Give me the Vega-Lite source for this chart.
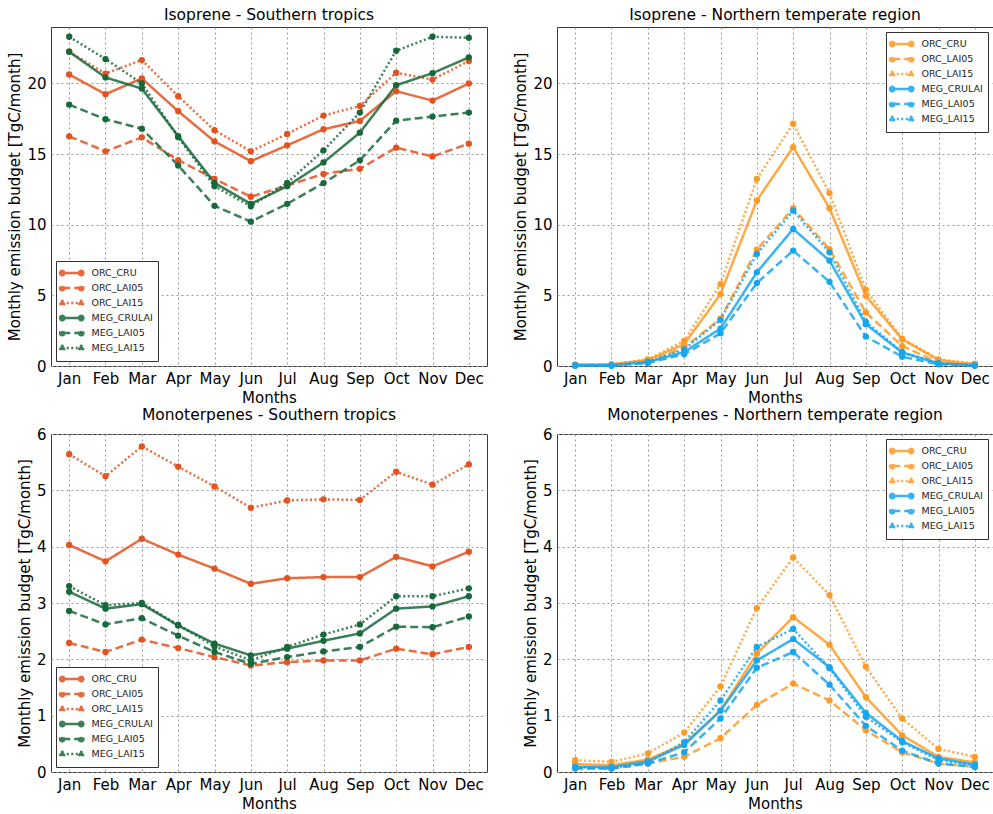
{
  "$schema": "https://vega.github.io/schema/vega-lite/v6.json",
  "padding": {"left": 7, "top": 7, "right": 0, "bottom": 0},
  "bounds": "flush",
  "columns": 2,
  "spacing": {"row": 68, "column": 70},
  "datasets": {
    "budget": [
      {"panel":"IST","series":"ORC_CRU","month":"Jan","value":20.64},{"panel":"IST","series":"ORC_CRU","month":"Feb","value":19.24},{"panel":"IST","series":"ORC_CRU","month":"Mar","value":20.36},{"panel":"IST","series":"ORC_CRU","month":"Apr","value":18.04},{"panel":"IST","series":"ORC_CRU","month":"May","value":15.9},{"panel":"IST","series":"ORC_CRU","month":"Jun","value":14.5},{"panel":"IST","series":"ORC_CRU","month":"Jul","value":15.62},{"panel":"IST","series":"ORC_CRU","month":"Aug","value":16.76},{"panel":"IST","series":"ORC_CRU","month":"Sep","value":17.35},{"panel":"IST","series":"ORC_CRU","month":"Oct","value":19.46},{"panel":"IST","series":"ORC_CRU","month":"Nov","value":18.79},{"panel":"IST","series":"ORC_CRU","month":"Dec","value":20.0},
      {"panel":"IST","series":"ORC_LAI05","month":"Jan","value":16.26},{"panel":"IST","series":"ORC_LAI05","month":"Feb","value":15.2},{"panel":"IST","series":"ORC_LAI05","month":"Mar","value":16.19},{"panel":"IST","series":"ORC_LAI05","month":"Apr","value":14.58},{"panel":"IST","series":"ORC_LAI05","month":"May","value":13.25},{"panel":"IST","series":"ORC_LAI05","month":"Jun","value":11.98},{"panel":"IST","series":"ORC_LAI05","month":"Jul","value":12.78},{"panel":"IST","series":"ORC_LAI05","month":"Aug","value":13.6},{"panel":"IST","series":"ORC_LAI05","month":"Sep","value":13.96},{"panel":"IST","series":"ORC_LAI05","month":"Oct","value":15.46},{"panel":"IST","series":"ORC_LAI05","month":"Nov","value":14.84},{"panel":"IST","series":"ORC_LAI05","month":"Dec","value":15.74},
      {"panel":"IST","series":"ORC_LAI15","month":"Jan","value":22.25},{"panel":"IST","series":"ORC_LAI15","month":"Feb","value":20.7},{"panel":"IST","series":"ORC_LAI15","month":"Mar","value":21.66},{"panel":"IST","series":"ORC_LAI15","month":"Apr","value":19.1},{"panel":"IST","series":"ORC_LAI15","month":"May","value":16.69},{"panel":"IST","series":"ORC_LAI15","month":"Jun","value":15.2},{"panel":"IST","series":"ORC_LAI15","month":"Jul","value":16.43},{"panel":"IST","series":"ORC_LAI15","month":"Aug","value":17.73},{"panel":"IST","series":"ORC_LAI15","month":"Sep","value":18.41},{"panel":"IST","series":"ORC_LAI15","month":"Oct","value":20.76},{"panel":"IST","series":"ORC_LAI15","month":"Nov","value":20.28},{"panel":"IST","series":"ORC_LAI15","month":"Dec","value":21.59},
      {"panel":"IST","series":"MEG_CRULAI","month":"Jan","value":22.25},{"panel":"IST","series":"MEG_CRULAI","month":"Feb","value":20.43},{"panel":"IST","series":"MEG_CRULAI","month":"Mar","value":19.64},{"panel":"IST","series":"MEG_CRULAI","month":"Apr","value":16.28},{"panel":"IST","series":"MEG_CRULAI","month":"May","value":12.97},{"panel":"IST","series":"MEG_CRULAI","month":"Jun","value":11.48},{"panel":"IST","series":"MEG_CRULAI","month":"Jul","value":12.73},{"panel":"IST","series":"MEG_CRULAI","month":"Aug","value":14.41},{"panel":"IST","series":"MEG_CRULAI","month":"Sep","value":16.52},{"panel":"IST","series":"MEG_CRULAI","month":"Oct","value":19.88},{"panel":"IST","series":"MEG_CRULAI","month":"Nov","value":20.73},{"panel":"IST","series":"MEG_CRULAI","month":"Dec","value":21.85},
      {"panel":"IST","series":"MEG_LAI05","month":"Jan","value":18.51},{"panel":"IST","series":"MEG_LAI05","month":"Feb","value":17.47},{"panel":"IST","series":"MEG_LAI05","month":"Mar","value":16.8},{"panel":"IST","series":"MEG_LAI05","month":"Apr","value":14.2},{"panel":"IST","series":"MEG_LAI05","month":"May","value":11.34},{"panel":"IST","series":"MEG_LAI05","month":"Jun","value":10.22},{"panel":"IST","series":"MEG_LAI05","month":"Jul","value":11.48},{"panel":"IST","series":"MEG_LAI05","month":"Aug","value":12.95},{"panel":"IST","series":"MEG_LAI05","month":"Sep","value":14.56},{"panel":"IST","series":"MEG_LAI05","month":"Oct","value":17.37},{"panel":"IST","series":"MEG_LAI05","month":"Nov","value":17.66},{"panel":"IST","series":"MEG_LAI05","month":"Dec","value":17.94},
      {"panel":"IST","series":"MEG_LAI15","month":"Jan","value":23.31},{"panel":"IST","series":"MEG_LAI15","month":"Feb","value":21.73},{"panel":"IST","series":"MEG_LAI15","month":"Mar","value":20.0},{"panel":"IST","series":"MEG_LAI15","month":"Apr","value":16.2},{"panel":"IST","series":"MEG_LAI15","month":"May","value":12.73},{"panel":"IST","series":"MEG_LAI15","month":"Jun","value":11.31},{"panel":"IST","series":"MEG_LAI15","month":"Jul","value":12.97},{"panel":"IST","series":"MEG_LAI15","month":"Aug","value":15.27},{"panel":"IST","series":"MEG_LAI15","month":"Sep","value":17.94},{"panel":"IST","series":"MEG_LAI15","month":"Oct","value":22.32},{"panel":"IST","series":"MEG_LAI15","month":"Nov","value":23.31},{"panel":"IST","series":"MEG_LAI15","month":"Dec","value":23.24},

      {"panel":"INT","series":"ORC_CRU","month":"Jan","value":0.1},{"panel":"INT","series":"ORC_CRU","month":"Feb","value":0.12},{"panel":"INT","series":"ORC_CRU","month":"Mar","value":0.43},{"panel":"INT","series":"ORC_CRU","month":"Apr","value":1.54},{"panel":"INT","series":"ORC_CRU","month":"May","value":5.09},{"panel":"INT","series":"ORC_CRU","month":"Jun","value":11.72},{"panel":"INT","series":"ORC_CRU","month":"Jul","value":15.5},{"panel":"INT","series":"ORC_CRU","month":"Aug","value":11.17},{"panel":"INT","series":"ORC_CRU","month":"Sep","value":4.97},{"panel":"INT","series":"ORC_CRU","month":"Oct","value":1.89},{"panel":"INT","series":"ORC_CRU","month":"Nov","value":0.43},{"panel":"INT","series":"ORC_CRU","month":"Dec","value":0.12},
      {"panel":"INT","series":"ORC_LAI05","month":"Jan","value":0.07},{"panel":"INT","series":"ORC_LAI05","month":"Feb","value":0.1},{"panel":"INT","series":"ORC_LAI05","month":"Mar","value":0.28},{"panel":"INT","series":"ORC_LAI05","month":"Apr","value":1.3},{"panel":"INT","series":"ORC_LAI05","month":"May","value":3.36},{"panel":"INT","series":"ORC_LAI05","month":"Jun","value":8.24},{"panel":"INT","series":"ORC_LAI05","month":"Jul","value":11.17},{"panel":"INT","series":"ORC_LAI05","month":"Aug","value":8.28},{"panel":"INT","series":"ORC_LAI05","month":"Sep","value":3.79},{"panel":"INT","series":"ORC_LAI05","month":"Oct","value":1.42},{"panel":"INT","series":"ORC_LAI05","month":"Nov","value":0.24},{"panel":"INT","series":"ORC_LAI05","month":"Dec","value":0.07},
      {"panel":"INT","series":"ORC_LAI15","month":"Jan","value":0.1},{"panel":"INT","series":"ORC_LAI15","month":"Feb","value":0.12},{"panel":"INT","series":"ORC_LAI15","month":"Mar","value":0.47},{"panel":"INT","series":"ORC_LAI15","month":"Apr","value":1.78},{"panel":"INT","series":"ORC_LAI15","month":"May","value":5.8},{"panel":"INT","series":"ORC_LAI15","month":"Jun","value":13.25},{"panel":"INT","series":"ORC_LAI15","month":"Jul","value":17.16},{"panel":"INT","series":"ORC_LAI15","month":"Aug","value":12.24},{"panel":"INT","series":"ORC_LAI15","month":"Sep","value":5.4},{"panel":"INT","series":"ORC_LAI15","month":"Oct","value":1.94},{"panel":"INT","series":"ORC_LAI15","month":"Nov","value":0.47},{"panel":"INT","series":"ORC_LAI15","month":"Dec","value":0.17},
      {"panel":"INT","series":"MEG_CRULAI","month":"Jan","value":0.05},{"panel":"INT","series":"MEG_CRULAI","month":"Feb","value":0.05},{"panel":"INT","series":"MEG_CRULAI","month":"Mar","value":0.28},{"panel":"INT","series":"MEG_CRULAI","month":"Apr","value":0.99},{"panel":"INT","series":"MEG_CRULAI","month":"May","value":2.65},{"panel":"INT","series":"MEG_CRULAI","month":"Jun","value":6.63},{"panel":"INT","series":"MEG_CRULAI","month":"Jul","value":9.7},{"panel":"INT","series":"MEG_CRULAI","month":"Aug","value":7.46},{"panel":"INT","series":"MEG_CRULAI","month":"Sep","value":2.96},{"panel":"INT","series":"MEG_CRULAI","month":"Oct","value":0.95},{"panel":"INT","series":"MEG_CRULAI","month":"Nov","value":0.19},{"panel":"INT","series":"MEG_CRULAI","month":"Dec","value":0.05},
      {"panel":"INT","series":"MEG_LAI05","month":"Jan","value":0.02},{"panel":"INT","series":"MEG_LAI05","month":"Feb","value":0.02},{"panel":"INT","series":"MEG_LAI05","month":"Mar","value":0.21},{"panel":"INT","series":"MEG_LAI05","month":"Apr","value":0.83},{"panel":"INT","series":"MEG_LAI05","month":"May","value":2.32},{"panel":"INT","series":"MEG_LAI05","month":"Jun","value":5.87},{"panel":"INT","series":"MEG_LAI05","month":"Jul","value":8.17},{"panel":"INT","series":"MEG_LAI05","month":"Aug","value":5.96},{"panel":"INT","series":"MEG_LAI05","month":"Sep","value":2.08},{"panel":"INT","series":"MEG_LAI05","month":"Oct","value":0.66},{"panel":"INT","series":"MEG_LAI05","month":"Nov","value":0.12},{"panel":"INT","series":"MEG_LAI05","month":"Dec","value":0.02},
      {"panel":"INT","series":"MEG_LAI15","month":"Jan","value":0.05},{"panel":"INT","series":"MEG_LAI15","month":"Feb","value":0.05},{"panel":"INT","series":"MEG_LAI15","month":"Mar","value":0.31},{"panel":"INT","series":"MEG_LAI15","month":"Apr","value":1.18},{"panel":"INT","series":"MEG_LAI15","month":"May","value":3.27},{"panel":"INT","series":"MEG_LAI15","month":"Jun","value":7.93},{"panel":"INT","series":"MEG_LAI15","month":"Jul","value":11.0},{"panel":"INT","series":"MEG_LAI15","month":"Aug","value":8.05},{"panel":"INT","series":"MEG_LAI15","month":"Sep","value":3.12},{"panel":"INT","series":"MEG_LAI15","month":"Oct","value":0.99},{"panel":"INT","series":"MEG_LAI15","month":"Nov","value":0.19},{"panel":"INT","series":"MEG_LAI15","month":"Dec","value":0.05},

      {"panel":"MST","series":"ORC_CRU","month":"Jan","value":4.03},{"panel":"MST","series":"ORC_CRU","month":"Feb","value":3.74},{"panel":"MST","series":"ORC_CRU","month":"Mar","value":4.14},{"panel":"MST","series":"ORC_CRU","month":"Apr","value":3.86},{"panel":"MST","series":"ORC_CRU","month":"May","value":3.61},{"panel":"MST","series":"ORC_CRU","month":"Jun","value":3.34},{"panel":"MST","series":"ORC_CRU","month":"Jul","value":3.44},{"panel":"MST","series":"ORC_CRU","month":"Aug","value":3.46},{"panel":"MST","series":"ORC_CRU","month":"Sep","value":3.46},{"panel":"MST","series":"ORC_CRU","month":"Oct","value":3.82},{"panel":"MST","series":"ORC_CRU","month":"Nov","value":3.65},{"panel":"MST","series":"ORC_CRU","month":"Dec","value":3.91},
      {"panel":"MST","series":"ORC_LAI05","month":"Jan","value":2.29},{"panel":"MST","series":"ORC_LAI05","month":"Feb","value":2.13},{"panel":"MST","series":"ORC_LAI05","month":"Mar","value":2.35},{"panel":"MST","series":"ORC_LAI05","month":"Apr","value":2.2},{"panel":"MST","series":"ORC_LAI05","month":"May","value":2.04},{"panel":"MST","series":"ORC_LAI05","month":"Jun","value":1.89},{"panel":"MST","series":"ORC_LAI05","month":"Jul","value":1.95},{"panel":"MST","series":"ORC_LAI05","month":"Aug","value":1.98},{"panel":"MST","series":"ORC_LAI05","month":"Sep","value":1.98},{"panel":"MST","series":"ORC_LAI05","month":"Oct","value":2.19},{"panel":"MST","series":"ORC_LAI05","month":"Nov","value":2.09},{"panel":"MST","series":"ORC_LAI05","month":"Dec","value":2.22},
      {"panel":"MST","series":"ORC_LAI15","month":"Jan","value":5.64},{"panel":"MST","series":"ORC_LAI15","month":"Feb","value":5.25},{"panel":"MST","series":"ORC_LAI15","month":"Mar","value":5.78},{"panel":"MST","series":"ORC_LAI15","month":"Apr","value":5.42},{"panel":"MST","series":"ORC_LAI15","month":"May","value":5.07},{"panel":"MST","series":"ORC_LAI15","month":"Jun","value":4.69},{"panel":"MST","series":"ORC_LAI15","month":"Jul","value":4.82},{"panel":"MST","series":"ORC_LAI15","month":"Aug","value":4.84},{"panel":"MST","series":"ORC_LAI15","month":"Sep","value":4.83},{"panel":"MST","series":"ORC_LAI15","month":"Oct","value":5.33},{"panel":"MST","series":"ORC_LAI15","month":"Nov","value":5.1},{"panel":"MST","series":"ORC_LAI15","month":"Dec","value":5.46},
      {"panel":"MST","series":"MEG_CRULAI","month":"Jan","value":3.2},{"panel":"MST","series":"MEG_CRULAI","month":"Feb","value":2.9},{"panel":"MST","series":"MEG_CRULAI","month":"Mar","value":2.98},{"panel":"MST","series":"MEG_CRULAI","month":"Apr","value":2.6},{"panel":"MST","series":"MEG_CRULAI","month":"May","value":2.28},{"panel":"MST","series":"MEG_CRULAI","month":"Jun","value":2.07},{"panel":"MST","series":"MEG_CRULAI","month":"Jul","value":2.19},{"panel":"MST","series":"MEG_CRULAI","month":"Aug","value":2.33},{"panel":"MST","series":"MEG_CRULAI","month":"Sep","value":2.46},{"panel":"MST","series":"MEG_CRULAI","month":"Oct","value":2.9},{"panel":"MST","series":"MEG_CRULAI","month":"Nov","value":2.94},{"panel":"MST","series":"MEG_CRULAI","month":"Dec","value":3.12},
      {"panel":"MST","series":"MEG_LAI05","month":"Jan","value":2.86},{"panel":"MST","series":"MEG_LAI05","month":"Feb","value":2.62},{"panel":"MST","series":"MEG_LAI05","month":"Mar","value":2.73},{"panel":"MST","series":"MEG_LAI05","month":"Apr","value":2.42},{"panel":"MST","series":"MEG_LAI05","month":"May","value":2.13},{"panel":"MST","series":"MEG_LAI05","month":"Jun","value":1.92},{"panel":"MST","series":"MEG_LAI05","month":"Jul","value":2.04},{"panel":"MST","series":"MEG_LAI05","month":"Aug","value":2.14},{"panel":"MST","series":"MEG_LAI05","month":"Sep","value":2.22},{"panel":"MST","series":"MEG_LAI05","month":"Oct","value":2.58},{"panel":"MST","series":"MEG_LAI05","month":"Nov","value":2.57},{"panel":"MST","series":"MEG_LAI05","month":"Dec","value":2.76},
      {"panel":"MST","series":"MEG_LAI15","month":"Jan","value":3.3},{"panel":"MST","series":"MEG_LAI15","month":"Feb","value":2.96},{"panel":"MST","series":"MEG_LAI15","month":"Mar","value":3.0},{"panel":"MST","series":"MEG_LAI15","month":"Apr","value":2.61},{"panel":"MST","series":"MEG_LAI15","month":"May","value":2.23},{"panel":"MST","series":"MEG_LAI15","month":"Jun","value":1.98},{"panel":"MST","series":"MEG_LAI15","month":"Jul","value":2.22},{"panel":"MST","series":"MEG_LAI15","month":"Aug","value":2.44},{"panel":"MST","series":"MEG_LAI15","month":"Sep","value":2.62},{"panel":"MST","series":"MEG_LAI15","month":"Oct","value":3.12},{"panel":"MST","series":"MEG_LAI15","month":"Nov","value":3.12},{"panel":"MST","series":"MEG_LAI15","month":"Dec","value":3.26},

      {"panel":"MNT","series":"ORC_CRU","month":"Jan","value":0.14},{"panel":"MNT","series":"ORC_CRU","month":"Feb","value":0.12},{"panel":"MNT","series":"ORC_CRU","month":"Mar","value":0.22},{"panel":"MNT","series":"ORC_CRU","month":"Apr","value":0.5},{"panel":"MNT","series":"ORC_CRU","month":"May","value":1.09},{"panel":"MNT","series":"ORC_CRU","month":"Jun","value":2.1},{"panel":"MNT","series":"ORC_CRU","month":"Jul","value":2.75},{"panel":"MNT","series":"ORC_CRU","month":"Aug","value":2.26},{"panel":"MNT","series":"ORC_CRU","month":"Sep","value":1.33},{"panel":"MNT","series":"ORC_CRU","month":"Oct","value":0.65},{"panel":"MNT","series":"ORC_CRU","month":"Nov","value":0.27},{"panel":"MNT","series":"ORC_CRU","month":"Dec","value":0.17},
      {"panel":"MNT","series":"ORC_LAI05","month":"Jan","value":0.07},{"panel":"MNT","series":"ORC_LAI05","month":"Feb","value":0.06},{"panel":"MNT","series":"ORC_LAI05","month":"Mar","value":0.15},{"panel":"MNT","series":"ORC_LAI05","month":"Apr","value":0.27},{"panel":"MNT","series":"ORC_LAI05","month":"May","value":0.6},{"panel":"MNT","series":"ORC_LAI05","month":"Jun","value":1.19},{"panel":"MNT","series":"ORC_LAI05","month":"Jul","value":1.57},{"panel":"MNT","series":"ORC_LAI05","month":"Aug","value":1.27},{"panel":"MNT","series":"ORC_LAI05","month":"Sep","value":0.74},{"panel":"MNT","series":"ORC_LAI05","month":"Oct","value":0.35},{"panel":"MNT","series":"ORC_LAI05","month":"Nov","value":0.15},{"panel":"MNT","series":"ORC_LAI05","month":"Dec","value":0.09},
      {"panel":"MNT","series":"ORC_LAI15","month":"Jan","value":0.21},{"panel":"MNT","series":"ORC_LAI15","month":"Feb","value":0.18},{"panel":"MNT","series":"ORC_LAI15","month":"Mar","value":0.33},{"panel":"MNT","series":"ORC_LAI15","month":"Apr","value":0.7},{"panel":"MNT","series":"ORC_LAI15","month":"May","value":1.52},{"panel":"MNT","series":"ORC_LAI15","month":"Jun","value":2.91},{"panel":"MNT","series":"ORC_LAI15","month":"Jul","value":3.81},{"panel":"MNT","series":"ORC_LAI15","month":"Aug","value":3.14},{"panel":"MNT","series":"ORC_LAI15","month":"Sep","value":1.87},{"panel":"MNT","series":"ORC_LAI15","month":"Oct","value":0.95},{"panel":"MNT","series":"ORC_LAI15","month":"Nov","value":0.41},{"panel":"MNT","series":"ORC_LAI15","month":"Dec","value":0.27},
      {"panel":"MNT","series":"MEG_CRULAI","month":"Jan","value":0.09},{"panel":"MNT","series":"MEG_CRULAI","month":"Feb","value":0.09},{"panel":"MNT","series":"MEG_CRULAI","month":"Mar","value":0.19},{"panel":"MNT","series":"MEG_CRULAI","month":"Apr","value":0.48},{"panel":"MNT","series":"MEG_CRULAI","month":"May","value":1.09},{"panel":"MNT","series":"MEG_CRULAI","month":"Jun","value":1.98},{"panel":"MNT","series":"MEG_CRULAI","month":"Jul","value":2.36},{"panel":"MNT","series":"MEG_CRULAI","month":"Aug","value":1.86},{"panel":"MNT","series":"MEG_CRULAI","month":"Sep","value":1.05},{"panel":"MNT","series":"MEG_CRULAI","month":"Oct","value":0.55},{"panel":"MNT","series":"MEG_CRULAI","month":"Nov","value":0.24},{"panel":"MNT","series":"MEG_CRULAI","month":"Dec","value":0.13},
      {"panel":"MNT","series":"MEG_LAI05","month":"Jan","value":0.06},{"panel":"MNT","series":"MEG_LAI05","month":"Feb","value":0.06},{"panel":"MNT","series":"MEG_LAI05","month":"Mar","value":0.15},{"panel":"MNT","series":"MEG_LAI05","month":"Apr","value":0.35},{"panel":"MNT","series":"MEG_LAI05","month":"May","value":0.95},{"panel":"MNT","series":"MEG_LAI05","month":"Jun","value":1.85},{"panel":"MNT","series":"MEG_LAI05","month":"Jul","value":2.13},{"panel":"MNT","series":"MEG_LAI05","month":"Aug","value":1.55},{"panel":"MNT","series":"MEG_LAI05","month":"Sep","value":0.82},{"panel":"MNT","series":"MEG_LAI05","month":"Oct","value":0.38},{"panel":"MNT","series":"MEG_LAI05","month":"Nov","value":0.15},{"panel":"MNT","series":"MEG_LAI05","month":"Dec","value":0.09},
      {"panel":"MNT","series":"MEG_LAI15","month":"Jan","value":0.09},{"panel":"MNT","series":"MEG_LAI15","month":"Feb","value":0.07},{"panel":"MNT","series":"MEG_LAI15","month":"Mar","value":0.17},{"panel":"MNT","series":"MEG_LAI15","month":"Apr","value":0.53},{"panel":"MNT","series":"MEG_LAI15","month":"May","value":1.27},{"panel":"MNT","series":"MEG_LAI15","month":"Jun","value":2.22},{"panel":"MNT","series":"MEG_LAI15","month":"Jul","value":2.54},{"panel":"MNT","series":"MEG_LAI15","month":"Aug","value":1.84},{"panel":"MNT","series":"MEG_LAI15","month":"Sep","value":0.98},{"panel":"MNT","series":"MEG_LAI15","month":"Oct","value":0.53},{"panel":"MNT","series":"MEG_LAI15","month":"Nov","value":0.21},{"panel":"MNT","series":"MEG_LAI15","month":"Dec","value":0.12}
    ]
  },
  "concat": [
    {
      "title": "Isoprene - Southern tropics",
      "width": 436, "height": 339,
      "data": {"name": "budget"},
      "transform": [{"filter": "datum.panel == 'IST'"}],
      "encoding": {
        "x": {"field": "month", "type": "ordinal", "scale": {"type": "point", "padding": 0.5, "domain": ["Jan","Feb","Mar","Apr","May","Jun","Jul","Aug","Sep","Oct","Nov","Dec"]}, "axis": {"title": "Months", "labelAngle": 0}},
        "y": {"field": "value", "type": "quantitative", "scale": {"domain": [0, 24], "nice": false}, "axis": {"title": "Monthly emission budget [TgC/month]", "values": [0, 5, 10, 15, 20]}},
        "color": {"field": "series", "type": "nominal", "scale": {"domain": ["ORC_CRU","ORC_LAI05","ORC_LAI15","MEG_CRULAI","MEG_LAI05","MEG_LAI15"], "range": ["#e4521f","#e4521f","#e4521f","#17693b","#17693b","#17693b"]}, "legend": {"title": null, "orient": "bottom-left"}},
        "strokeDash": {"field": "series", "type": "nominal", "scale": {"domain": ["ORC_CRU","ORC_LAI05","ORC_LAI15","MEG_CRULAI","MEG_LAI05","MEG_LAI15"], "range": [[1,0],[8,4],[2,2.5],[1,0],[8,4],[2,2.5]]}, "legend": {"title": null, "orient": "bottom-left"}}
      },
      "layer": [
        {"mark": {"type": "line", "strokeWidth": 2.5, "opacity": 0.85}},
        {"mark": {"type": "point", "filled": true, "size": 40, "opacity": 1}}
      ]
    },
    {
      "title": "Isoprene - Northern temperate region",
      "width": 436, "height": 339,
      "data": {"name": "budget"},
      "transform": [{"filter": "datum.panel == 'INT'"}],
      "encoding": {
        "x": {"field": "month", "type": "ordinal", "scale": {"type": "point", "padding": 0.5, "domain": ["Jan","Feb","Mar","Apr","May","Jun","Jul","Aug","Sep","Oct","Nov","Dec"]}, "axis": {"title": "Months", "labelAngle": 0}},
        "y": {"field": "value", "type": "quantitative", "scale": {"domain": [0, 24], "nice": false}, "axis": {"title": "Monthly emission budget [TgC/month]", "values": [0, 5, 10, 15, 20]}},
        "color": {"field": "series", "type": "nominal", "scale": {"domain": ["ORC_CRU","ORC_LAI05","ORC_LAI15","MEG_CRULAI","MEG_LAI05","MEG_LAI15"], "range": ["#ff9a25","#ff9a25","#ff9a25","#16a6ee","#16a6ee","#16a6ee"]}, "legend": {"title": null, "orient": "top-right"}},
        "strokeDash": {"field": "series", "type": "nominal", "scale": {"domain": ["ORC_CRU","ORC_LAI05","ORC_LAI15","MEG_CRULAI","MEG_LAI05","MEG_LAI15"], "range": [[1,0],[8,4],[2,2.5],[1,0],[8,4],[2,2.5]]}, "legend": {"title": null, "orient": "top-right"}}
      },
      "layer": [
        {"mark": {"type": "line", "strokeWidth": 2.5, "opacity": 0.85}},
        {"mark": {"type": "point", "filled": true, "size": 40, "opacity": 1}}
      ]
    },
    {
      "title": "Monoterpenes - Southern tropics",
      "width": 436, "height": 338,
      "data": {"name": "budget"},
      "transform": [{"filter": "datum.panel == 'MST'"}],
      "encoding": {
        "x": {"field": "month", "type": "ordinal", "scale": {"type": "point", "padding": 0.5, "domain": ["Jan","Feb","Mar","Apr","May","Jun","Jul","Aug","Sep","Oct","Nov","Dec"]}, "axis": {"title": "Months", "labelAngle": 0}},
        "y": {"field": "value", "type": "quantitative", "scale": {"domain": [0, 6], "nice": false}, "axis": {"title": "Monthly emission budget [TgC/month]", "values": [0, 1, 2, 3, 4, 5, 6]}},
        "color": {"field": "series", "type": "nominal", "scale": {"domain": ["ORC_CRU","ORC_LAI05","ORC_LAI15","MEG_CRULAI","MEG_LAI05","MEG_LAI15"], "range": ["#e4521f","#e4521f","#e4521f","#17693b","#17693b","#17693b"]}, "legend": {"title": null, "orient": "bottom-left"}},
        "strokeDash": {"field": "series", "type": "nominal", "scale": {"domain": ["ORC_CRU","ORC_LAI05","ORC_LAI15","MEG_CRULAI","MEG_LAI05","MEG_LAI15"], "range": [[1,0],[8,4],[2,2.5],[1,0],[8,4],[2,2.5]]}, "legend": {"title": null, "orient": "bottom-left"}}
      },
      "layer": [
        {"mark": {"type": "line", "strokeWidth": 2.5, "opacity": 0.85}},
        {"mark": {"type": "point", "filled": true, "size": 40, "opacity": 1}}
      ]
    },
    {
      "title": "Monoterpenes - Northern temperate region",
      "width": 436, "height": 338,
      "data": {"name": "budget"},
      "transform": [{"filter": "datum.panel == 'MNT'"}],
      "encoding": {
        "x": {"field": "month", "type": "ordinal", "scale": {"type": "point", "padding": 0.5, "domain": ["Jan","Feb","Mar","Apr","May","Jun","Jul","Aug","Sep","Oct","Nov","Dec"]}, "axis": {"title": "Months", "labelAngle": 0}},
        "y": {"field": "value", "type": "quantitative", "scale": {"domain": [0, 6], "nice": false}, "axis": {"title": "Monthly emission budget [TgC/month]", "values": [0, 1, 2, 3, 4, 5, 6]}},
        "color": {"field": "series", "type": "nominal", "scale": {"domain": ["ORC_CRU","ORC_LAI05","ORC_LAI15","MEG_CRULAI","MEG_LAI05","MEG_LAI15"], "range": ["#ff9a25","#ff9a25","#ff9a25","#16a6ee","#16a6ee","#16a6ee"]}, "legend": {"title": null, "orient": "top-right"}},
        "strokeDash": {"field": "series", "type": "nominal", "scale": {"domain": ["ORC_CRU","ORC_LAI05","ORC_LAI15","MEG_CRULAI","MEG_LAI05","MEG_LAI15"], "range": [[1,0],[8,4],[2,2.5],[1,0],[8,4],[2,2.5]]}, "legend": {"title": null, "orient": "top-right"}}
      },
      "layer": [
        {"mark": {"type": "line", "strokeWidth": 2.5, "opacity": 0.85}},
        {"mark": {"type": "point", "filled": true, "size": 40, "opacity": 1}}
      ]
    }
  ],
  "resolve": {"scale": {"color": "independent", "strokeDash": "independent", "x": "independent", "y": "independent"}, "legend": {"color": "independent", "strokeDash": "independent"}},
  "config": {
    "font": "DejaVu Sans",
    "background": "white",
    "view": {"stroke": "#3a3a3a", "strokeWidth": 1},
    "title": {"fontSize": 15.5, "fontWeight": "normal", "color": "#000", "offset": 4, "font": "DejaVu Sans"},
    "axis": {
      "labelFont": "DejaVu Sans", "titleFont": "DejaVu Sans",
      "labelFontSize": 15, "titleFontSize": 15, "titleFontWeight": "normal",
      "labelColor": "#000", "titleColor": "#000",
      "domain": false, "ticks": false, "labelPadding": 5, "titlePadding": 4,
      "grid": true, "gridDash": [2, 3], "gridColor": "#999", "gridOpacity": 1, "gridWidth": 1
    },
    "legend": {
      "labelFont": "DejaVu Sans", "labelFontSize": 9.5, "labelColor": "#222",
      "symbolType": "M-1,0L2.3,0M-1.38,0a0.38,0.38 0 1,0 0.76,0a0.38,0.38 0 1,0 -0.76,0M1.92,0a0.38,0.38 0 1,0 0.76,0a0.38,0.38 0 1,0 -0.76,0",
      "symbolStrokeWidth": 2.5, "symbolSize": 132,
      "strokeColor": "#333", "fillColor": "white", "padding": 5, "offset": 5,
      "rowPadding": -1, "labelOffset": 16.5, "cornerRadius": 0
    }
  }
}
